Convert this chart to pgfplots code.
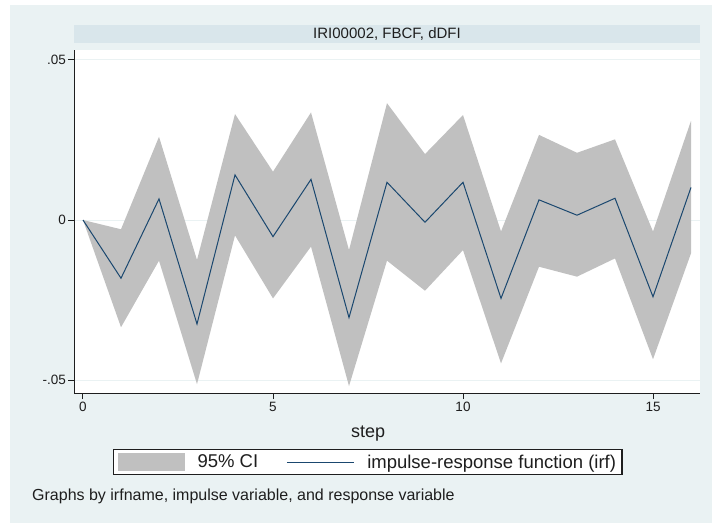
\documentclass[border=0pt]{standalone}
\usepackage{pgfplots}
\pgfplotsset{compat=1.18}
\usepackage{pgfplotstable}
\usepackage{fontspec}
\setmainfont{Liberation Sans}
\definecolor{bgcol}{RGB}{234,242,243}
\definecolor{titlebar}{RGB}{217,230,235}
\definecolor{cigray}{RGB}{192,192,192}
\definecolor{irfblue}{RGB}{26,71,111}
\definecolor{txt}{RGB}{30,30,30}

% impulse-response function
\pgfplotstableread{
step irf
0  0.0000
1 -0.0182
2  0.0066
3 -0.0325
4  0.0141
5 -0.0052
6  0.0127
7 -0.0305
8  0.0118
9 -0.0007
10 0.0118
11 -0.0245
12 0.0063
13 0.0015
14 0.0068
15 -0.0240
16 0.0102
}\irftable

% 95% CI band: upper bound forward, then lower bound backward
\pgfplotstableread{
step ci
0  0.0000
1 -0.0029
2  0.0260
3 -0.0125
4  0.0331
5  0.0151
6  0.0336
7 -0.0094
8  0.0365
9  0.0206
10 0.0328
11 -0.0036
12 0.0266
13 0.0210
14 0.0252
15 -0.0036
16 0.0310
16 -0.0104
15 -0.0435
14 -0.0120
13 -0.0177
12 -0.0146
11 -0.0448
10 -0.0094
9 -0.0221
8 -0.0127
7 -0.0519
6 -0.0083
5 -0.0245
4 -0.0048
3 -0.0513
2 -0.0127
1 -0.0335
0  0.0000
}\citable

\begin{document}
\begin{tikzpicture}
\useasboundingbox (0pt,0pt) rectangle (712pt,523pt);
\fill[white] (0pt,0pt) rectangle (712pt,523pt);
\fill[bgcol] (10pt,0pt) rectangle (712pt,518pt);
\begin{axis}[
  at={(74pt,130pt)}, anchor=south west,
  scale only axis, width=626pt, height=343pt,
  xmin=-0.2368, xmax=16.2368,
  ymin=-0.05406, ymax=0.053125,
  axis lines=left,
  axis line style={-, line width=1pt, color=txt},
  axis background/.style={fill=white},
  xtick={0,5,10,15},
  xticklabels={\mbox{0},\mbox{5},\mbox{10},\mbox{15}},
  ytick={-0.05,0,0.05},
  yticklabels={\mbox{-.05},\mbox{0},\mbox{.05}},
  scaled y ticks=false,
  tick align=outside,
  major tick length=6pt,
  tick style={color=txt, line width=1pt},
  ymajorgrids,
  grid style={color=bgcol, line width=1pt},
  tick label style={font=\fontsize{13.5}{15}\selectfont, text=txt},
  yticklabel style={inner xsep=2pt},
  title={IRI00002, FBCF, dDFI},
  title style={at={(0.5,1)}, anchor=south, yshift=1pt, fill=titlebar,
    minimum width=626pt, minimum height=18pt, inner sep=0pt,
    font=\fontsize{15}{17}\selectfont, text=txt},
  xlabel={step},
  xlabel style={at={(axis description cs:0.4697,-0.1283)}, anchor=base,
    font=\fontsize{18}{20}\selectfont, text=txt},
  legend columns=2,
  legend style={at={(axis description cs:0.0623,-0.1633)}, anchor=north west,
    draw=txt, line width=1.2pt, fill=white,
    font=\fontsize{18.5}{21}\selectfont, text=txt,
    inner xsep=4pt, inner ysep=3pt,
    /tikz/every odd column/.append style={column sep=11pt},
    /tikz/every even column/.append style={column sep=26pt}},
  legend cell align=left,
]
\addplot[fill=cigray, draw=none,
  legend image code/.code={\fill[cigray] (0pt,-9pt) rectangle (67pt,9pt);}]
  table[x=step, y=ci] {\citable} -- cycle;
\addlegendentry{95\% CI}
\addplot[irfblue, line width=1pt, mark=none,
  legend image code/.code={\draw[irfblue, line width=1pt] (0pt,0pt) -- (67pt,0pt);}]
  table[x=step, y=irf] {\irftable};
\addlegendentry{impulse-response function (irf)}
\end{axis}
\node[anchor=base west, font=\fontsize{16}{18}\selectfont, text=txt, inner sep=0pt]
  at (32pt,23pt) {Graphs by irfname, impulse variable, and response variable};
\end{tikzpicture}
\end{document}
